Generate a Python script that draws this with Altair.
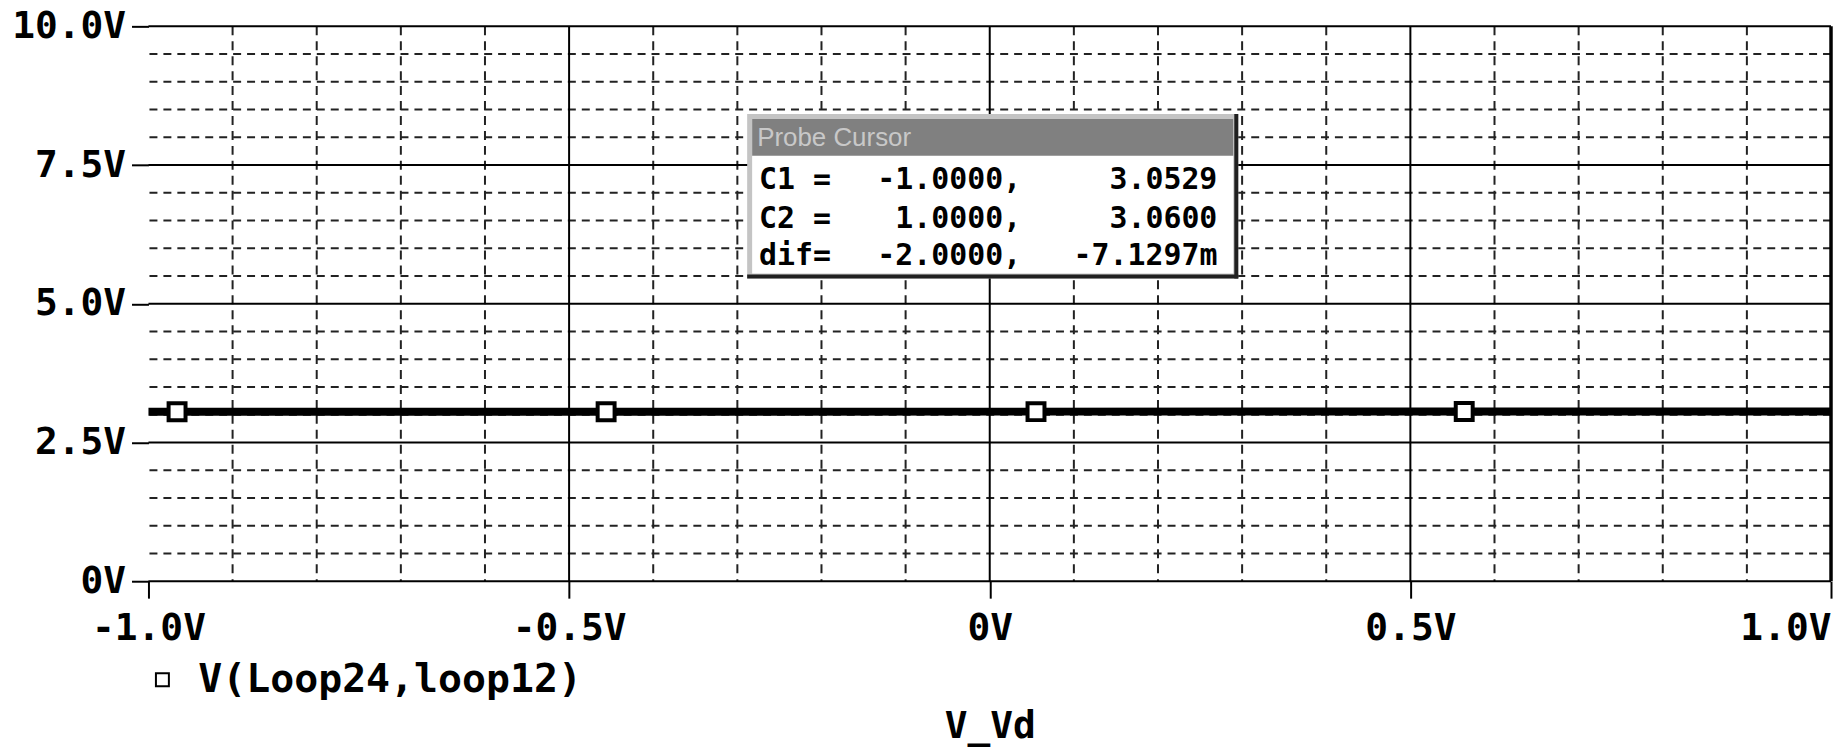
import altair as alt
import pandas as pd

# ---------------- data ----------------
sweep_v = [-1.0, 1.0]                 # V_Vd sweep end points
node_v = [3.0529, 3.0600]             # V(Loop24,loop12) at the cursors
marker_x = [-0.966, -0.456, 0.055, 0.564]
marker_y = [3.053, 3.054, 3.056, 3.058]
series_name = "V(Loop24,loop12)"

x_major = [-1.0, -0.5, 0.0, 0.5, 1.0]
y_major = [0.0, 2.5, 5.0, 7.5, 10.0]
x_grid_solid = [-0.5, 0.0, 0.5]
x_grid_edge = [1.0]
x_grid_dash = [-0.9, -0.8, -0.7, -0.6, -0.4, -0.3, -0.2, -0.1,
               0.1, 0.2, 0.3, 0.4, 0.6, 0.7, 0.8, 0.9]
y_grid_solid = [0.0, 2.5, 5.0, 7.5, 10.0]
y_grid_dash = [0.5, 1.0, 1.5, 2.0, 3.0, 3.5, 4.0, 4.5,
               5.5, 6.0, 6.5, 7.0, 8.0, 8.5, 9.0, 9.5]

probe_title = "Probe Cursor"
probe_names = ["C1 =", "C2 =", "dif="]
probe_xvals = ["-1.0000,", "1.0000,", "-2.0000,"]
probe_yvals = ["3.0529", "3.0600", "-7.1297m"]
x_title = "V_Vd"

# ---------------- styles ----------------
MONO = "DejaVu Sans Mono"
WEIGHT = "bold"
W, H = 1689, 557

xscale = alt.Scale(domain=[-1, 1], nice=False, zero=False)
yscale = alt.Scale(domain=[0, 10], nice=False, zero=False)

x_axis = alt.Axis(
    values=x_major,
    labelExpr="datum.value == 0 ? '0V' : (datum.value < 0 ? '-' : '') + format(abs(datum.value), '.1f') + 'V'",
    tickSize=17, tickWidth=2, tickColor="black",
    domain=False, grid=False,
    labelFont=MONO, labelFontSize=38, labelFontWeight=WEIGHT, labelColor="black", labelPadding=12,
    labelFlush=False, labelOverlap=False,
    labelAlign={"condition": {"test": "datum.value == 1", "value": "right"}, "value": "center"},
    title=x_title, titleFont=MONO, titleFontSize=38, titleFontWeight=WEIGHT,
    titleColor="black", titleBaseline="alphabetic", titleY=157,
)
y_axis = alt.Axis(
    values=y_major,
    labelExpr="datum.value == 0 ? '0V' : format(datum.value, '.1f') + 'V'",
    tickSize=17, tickWidth=2, tickColor="black",
    domain=False, grid=False,
    labelFont=MONO, labelFontSize=38, labelFontWeight=WEIGHT, labelColor="black", labelPadding=6,
    labelOverlap=False, labelFlush=False,
    title=None,
)

X = alt.X("x:Q", scale=xscale, axis=x_axis)
Y = alt.Y("y:Q", scale=yscale, axis=y_axis)

# ---------------- grid ----------------
vdash = alt.Chart(pd.DataFrame({"x": x_grid_dash})).mark_rule(
    color="#222222", strokeWidth=2, strokeDash=[9, 6]).encode(x=X)
hdash = alt.Chart(pd.DataFrame({"y": y_grid_dash})).mark_rule(
    color="#222222", strokeWidth=2, strokeDash=[8, 6]).encode(y=Y)
vsolid = alt.Chart(pd.DataFrame({"x": x_grid_solid})).mark_rule(
    color="black", strokeWidth=2).encode(x=X)
hsolid = alt.Chart(pd.DataFrame({"y": y_grid_solid})).mark_rule(
    color="black", strokeWidth=2).encode(y=Y)
vedge = alt.Chart(pd.DataFrame({"x": x_grid_edge})).mark_rule(
    color="black", strokeWidth=3.5).encode(x=X)

# ---------------- trace ----------------
line = alt.Chart(pd.DataFrame({"x": sweep_v, "y": node_v})).mark_line(
    color="black", strokeWidth=8, strokeCap="butt").encode(x=X, y=Y)

markers = alt.Chart(pd.DataFrame({"x": marker_x, "y": marker_y,
                                  "s": [series_name] * len(marker_x)})).mark_point(
    shape="square", size=289, filled=True, fill="white", strokeWidth=4, opacity=1
).encode(
    x=X, y=Y,
    stroke=alt.Stroke("s:N", scale=alt.Scale(range=["black"]), legend=alt.Legend(
        title=None, orient="none", legendX=-6, legendY=636, padding=0,
        symbolType="square", symbolSize=169, symbolStrokeWidth=2,
        symbolFillColor="white", labelFont=MONO, labelFontSize=40,
        labelFontWeight=WEIGHT, labelColor="black", labelOffset=16, labelLimit=0,
    )),
)

# ---------------- probe cursor window ----------------
def rect(x1, x2, y1, y2, color):
    return alt.Chart(pd.DataFrame({"k": [0]})).mark_rect(color=color, opacity=1).encode(
        x=alt.value(x1), x2=alt.value(x2), y=alt.value(y1), y2=alt.value(y2))

def label(txt, x, y, size, align="left", color="black", font=MONO, weight="bold"):
    return alt.Chart(pd.DataFrame({"t": [txt]})).mark_text(
        align=align, baseline="alphabetic", font=font, fontSize=size,
        fontWeight=weight, color=color).encode(
        text="t:N", x=alt.value(x), y=alt.value(y))

box = [
    rect(601, 1094, 88, 253, "#c4c4c4"),
    rect(1090, 1094, 88, 253, "#202020"),
    rect(601, 1094, 249, 253, "#202020"),
    rect(606, 1089, 93, 248, "white"),
    rect(606, 1089, 93, 130, "#808080"),
    label(probe_title, 611, 120, 26, color="#c8c8c8", font="Liberation Sans", weight="normal"),
]
row_y = [163, 202, 240]
for i in range(len(probe_names)):
    box.append(label(probe_names[i], 613, row_y[i], 30))
    box.append(label(probe_xvals[i], 876, row_y[i], 30, align="right"))
    box.append(label(probe_yvals[i], 1073, row_y[i], 30, align="right"))

chart = alt.layer(
    vdash, hdash, vsolid, hsolid, vedge, line, markers, *box
).properties(
    width=W, height=H,
    padding={"left": 141, "top": 17, "right": 3, "bottom": 166},
    autosize=alt.AutoSizeParams(type="none"),
    background="white",
).configure_view(stroke=None)

chart.save("out.html", embed_options={"renderer": "svg", "actions": False})
